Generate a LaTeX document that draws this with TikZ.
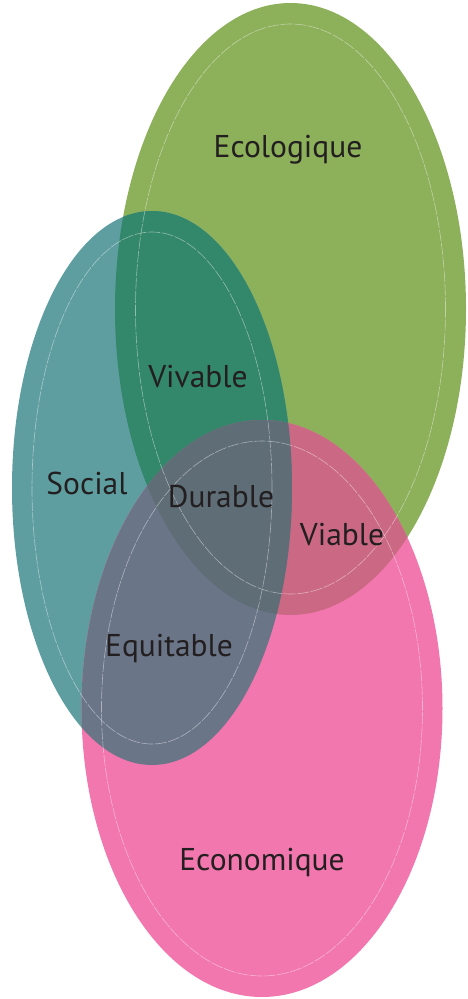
\documentclass[tikz,border=0pt]{standalone}
\usepackage{fontspec}
\setmainfont{PT Sans}
\definecolor{cg}{HTML}{8DB05A}
\definecolor{ct}{HTML}{5F9EA0}
\definecolor{cp}{HTML}{F277AE}
\definecolor{cgt}{HTML}{33876A}
\definecolor{cgp}{HTML}{CB6985}
\definecolor{ctp}{HTML}{6B7588}
\definecolor{call}{HTML}{5E6D76}
\definecolor{ctext}{HTML}{231F20}
\tikzset{
  lbl/.style={anchor=base, text=ctext, font=\fontsize{31.5}{36}\selectfont, inner sep=0pt},
  innerline/.style={draw=white, draw opacity=0.45, line width=0.6pt, dash pattern=on 12pt off 1.5pt}
}
\begin{document}
\begin{tikzpicture}[x=1pt,y=-1pt]
\useasboundingbox (0,0) rectangle (468,999);
% base fills
\fill[cg] (290.5,309) ellipse [x radius=175.5pt, y radius=306pt];
\fill[ct] (152,488) ellipse [x radius=140pt, y radius=277pt];
\fill[cp] (262,708.5) ellipse [x radius=180.5pt, y radius=288.5pt];
% overlaps
\begin{scope}
  \clip (290.5,309) ellipse [x radius=175.5pt, y radius=306pt];
  \fill[cgt] (152,488) ellipse [x radius=140pt, y radius=277pt];
\end{scope}
\begin{scope}
  \clip (290.5,309) ellipse [x radius=175.5pt, y radius=306pt];
  \fill[cgp] (262,708.5) ellipse [x radius=180.5pt, y radius=288.5pt];
\end{scope}
\begin{scope}
  \clip (152,488) ellipse [x radius=140pt, y radius=277pt];
  \fill[ctp] (262,708.5) ellipse [x radius=180.5pt, y radius=288.5pt];
\end{scope}
\begin{scope}
  \clip (290.5,309) ellipse [x radius=175.5pt, y radius=306pt];
  \clip (152,488) ellipse [x radius=140pt, y radius=277pt];
  \fill[call] (262,708.5) ellipse [x radius=180.5pt, y radius=288.5pt];
\end{scope}
% inner lines
\path[innerline] (290.5,309) ellipse [x radius=155pt, y radius=285pt];
\path[innerline] (152,488) ellipse [x radius=120pt, y radius=256pt];
\path[innerline] (262,708.5) ellipse [x radius=160.5pt, y radius=267.5pt];
% labels
\node[lbl] (eco) at (288,157) {Ecologique};
\node[lbl] (viv) at (198,387) {Vivable};
\node[lbl] (soc) at (87,494) {Social};
\node[lbl] (dur) at (221,507) {Durable};
\node[lbl] (via) at (342,545) {Viable};
\node[lbl] (equ) at (169,656) {Equitable};
\node[lbl] (econ) at (262,870) {Economique};
\end{tikzpicture}
\end{document}
